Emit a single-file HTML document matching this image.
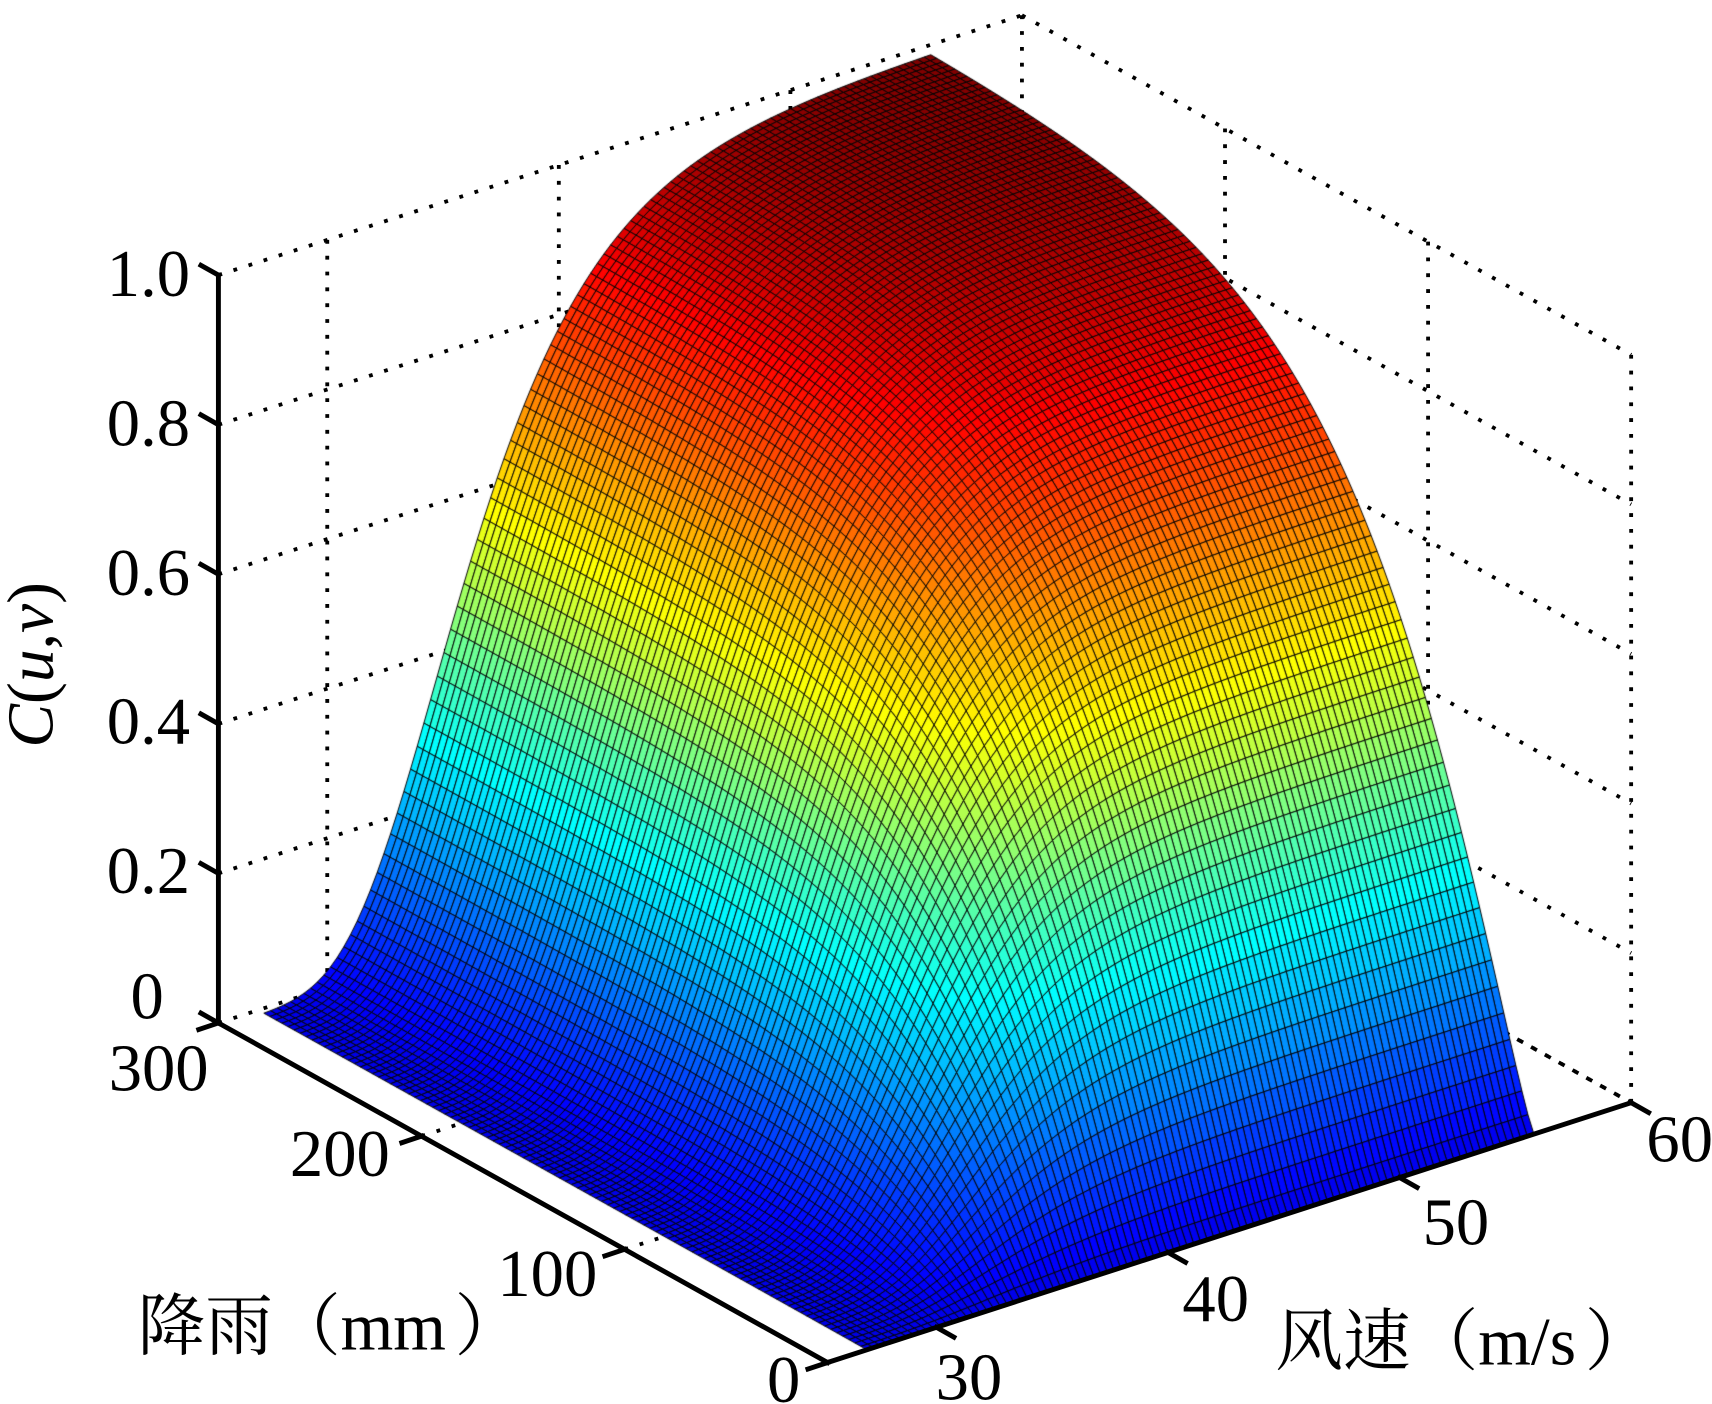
<!DOCTYPE html>
<html><head><meta charset="utf-8"><style>
html,body{margin:0;padding:0;background:#fff;}
#w{position:relative;width:1712px;height:1404px;overflow:hidden;}
#w svg,#w canvas{position:absolute;left:0;top:0;}
</style></head><body><div id="w">
<svg id="back" width="1712" height="1404" viewBox="0 0 1568 1286"></svg>
<canvas id="c" width="1712" height="1404"></canvas>
<svg id="front" width="1712" height="1404" viewBox="0 0 1568 1286" font-family="'Liberation Serif','Noto Serif CJK SC',serif" font-size="61" fill="#000">
<g text-anchor="end">
<text x="174" y="271">1.0</text>
<text x="174" y="408">0.8</text>
<text x="174" y="545">0.6</text>
<text x="174" y="681">0.4</text>
<text x="174" y="818">0.2</text>
<text x="150" y="933">0</text>
<text x="191" y="999">300</text>
<text x="357" y="1077">200</text>
<text x="547" y="1187">100</text>
<text x="733" y="1284">0</text>
</g>
<text x="857" y="1282">30</text>
<text x="1083" y="1210">40</text>
<text x="1303" y="1140">50</text>
<text x="1508" y="1064">60</text>
<text x="126" y="1236" font-size="62">降雨（mm<tspan dx="8">）</tspan></text>
<text x="1168" y="1250" font-size="62">风速（m/s<tspan dx="8">）</tspan></text>
<text transform="translate(48,609) rotate(-90)" text-anchor="middle" font-size="60"><tspan font-style="italic">C</tspan>(<tspan font-style="italic">u</tspan>,<tspan font-style="italic">v</tspan>)</text>
<g id="axes" stroke="#000" stroke-width="4.5" fill="none" stroke-linecap="square"></g>
</svg>
</div>
<script>
function P(r,w,z){var b=(w-25.3)/34.7,a=r/300;return [758-558*a+736*b,1248-311*a-238*b-685*z];}
var NS='http://www.w3.org/2000/svg';
function line(p,q,parent,attrs){var l=document.createElementNS(NS,'line');l.setAttribute('x1',p[0]);l.setAttribute('y1',p[1]);l.setAttribute('x2',q[0]);l.setAttribute('y2',q[1]);for(var k in attrs)l.setAttribute(k,attrs[k]);parent.appendChild(l);}
var back=document.getElementById('back');
var dot={stroke:'#000','stroke-width':3.5,'stroke-dasharray':'3.5 11'};
for(var z=0;z<=1.0001;z+=0.2){line(P(300,25.3,z),P(300,60,z),back,dot);line(P(300,60,z),P(0,60,z),back,dot);}
[30,40,50,60].forEach(function(w){line(P(300,w,0),P(300,w,1),back,dot);line(P(0,w,0),P(300,w,0),back,dot);});
[200,100,0].forEach(function(r){line(P(r,60,0),P(r,60,1),back,dot);line(P(r,25.3,0),P(r,60,0),back,dot);});
var ax=document.getElementById('axes');
line(P(300,25.3,0),P(300,25.3,1),ax,{});
line(P(300,25.3,0),P(0,25.3,0),ax,{});
line(P(0,25.3,0),P(0,60,0),ax,{});
for(var z=0;z<=1.0001;z+=0.2){var p=P(300,25.3,z);line(p,[p[0]-16,p[1]-9],ax,{});}
[300,200,100,0].forEach(function(r){var p=P(r,25.3,0);line(p,[p[0]-18,p[1]+6],ax,{});});
[30,40,50,60].forEach(function(w){var p=P(0,w,0);line(p,[p[0]+16,p[1]+9],ax,{});});
var cv=document.getElementById('c'),ctx=cv.getContext('2d');
ctx.scale(1712/1568,1404/1286);
function F(r){return 1-Math.exp(-Math.pow(r/72,1.2));}
function G(w){return Math.exp(-Math.exp(-(w-34.4)/3.7));}
function C(u,v){if(u<=0||v<=0)return 0;var t=1.3;return Math.exp(-Math.pow(Math.pow(-Math.log(u),t)+Math.pow(-Math.log(v),t),1/t));}
var N=100,r0=0,r1=297,w0=27,w1=55.8,pts=[],zs=[];
for(var i=0;i<=N;i++){pts[i]=[];zs[i]=[];for(var j=0;j<=N;j++){var r=r0+(r1-r0)*i/N,w=w0+(w1-w0)*j/N;var z=C(F(r),G(w));zs[i][j]=z;pts[i][j]=P(r,w,z);}}
function cl(x){return Math.max(0,Math.min(1,x));}
function jet(t){return 'rgb('+Math.round(255*cl(1.5-Math.abs(4*t-3)))+','+Math.round(255*cl(1.5-Math.abs(4*t-2)))+','+Math.round(255*cl(1.5-Math.abs(4*t-1)))+')';}
var zmax=zs[N][N];
ctx.lineWidth=0.9;ctx.strokeStyle='#000';ctx.lineJoin='round';
for(var i=N-1;i>=0;i--){for(var j=N-1;j>=0;j--){
var a=pts[i][j],b=pts[i+1][j],c=pts[i+1][j+1],d=pts[i][j+1];
var zc=(zs[i][j]+zs[i+1][j]+zs[i+1][j+1]+zs[i][j+1])/4/zmax;
zc=0.1+0.9*zc;
ctx.beginPath();ctx.moveTo(a[0],a[1]);ctx.lineTo(b[0],b[1]);ctx.lineTo(c[0],c[1]);ctx.lineTo(d[0],d[1]);ctx.closePath();
ctx.fillStyle=jet(zc);ctx.fill();ctx.stroke();}}
</script>
</body></html>
